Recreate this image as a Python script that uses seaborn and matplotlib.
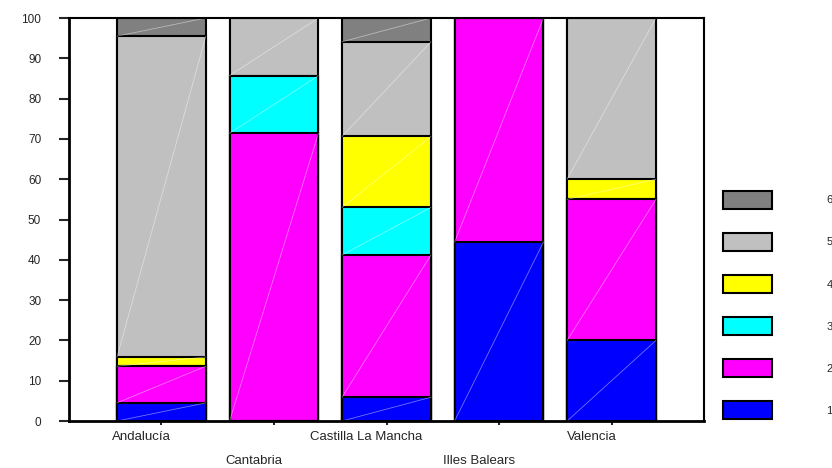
import numpy as np
import pandas as pd
import matplotlib
matplotlib.use("Agg")
import matplotlib.pyplot as plt
import matplotlib.transforms as mtransforms
from matplotlib.patches import Patch
import seaborn as sns

# data (percent of each level per region)
regions = ["Andalucía", "Cantabria", "Castilla La Mancha", "Illes Balears", "Valencia"]
levels = ["1", "2", "3", "4", "5", "6"]
colors = ["#0000FF", "#FF00FF", "#00FFFF", "#FFFF00", "#C0C0C0", "#808080"]

pct_1 = [4.5, 0.0, 5.9, 44.4, 20.0]
pct_2 = [9.1, 71.4, 35.3, 55.6, 35.0]
pct_3 = [0.0, 14.3, 11.8, 0.0, 0.0]
pct_4 = [2.3, 0.0, 17.6, 0.0, 5.0]
pct_5 = [79.6, 14.3, 23.5, 0.0, 40.0]
pct_6 = [4.5, 0.0, 5.9, 0.0, 0.0]

df = pd.DataFrame({"region": regions, "1": pct_1, "2": pct_2, "3": pct_3,
                   "4": pct_4, "5": pct_5, "6": pct_6})
cum = df[levels].cumsum(axis=1)

sns.set_style("ticks")
plt.rcParams["font.family"] = ["Liberation Sans", "DejaVu Sans"]

fig = plt.figure(figsize=(8.32, 4.68), dpi=100)
ax = fig.add_axes([0.0829, 0.1004, 0.7633, 0.8611])

bar_w = 0.79
# stacked bars: draw cumulative totals from the top level down
for lev, col in zip(levels[::-1], colors[::-1]):
    sns.barplot(x=df["region"], y=cum[lev], order=regions, color=col,
                saturation=1, width=bar_w, edgecolor="black", linewidth=1.5,
                errorbar=None, ax=ax)

# faint diagonal shading line inside every segment
for i in range(len(regions)):
    bottom = 0.0
    for lev in levels:
        top = cum.loc[i, lev]
        if top - bottom > 0:
            ax.plot([i - bar_w / 2, i + bar_w / 2], [bottom, top],
                    color="white", lw=0.6, alpha=0.45, zorder=3)
        bottom = top

ax.set_xlim(-0.822, 4.822)
ax.set_ylim(0, 100)
ax.set_yticks(np.arange(0, 101, 10))
ax.set_xlabel("")
ax.set_ylabel("")

for side in ["left", "bottom"]:
    ax.spines[side].set_linewidth(2)
for side in ["right", "top"]:
    ax.spines[side].set_visible(True)
    ax.spines[side].set_linewidth(1.5)
for s in ax.spines.values():
    s.set_color("black")
    s.set_zorder(5)

ax.tick_params(axis="y", length=7, width=1.5, pad=13, labelsize=8.5)
ax.tick_params(axis="x", length=3, width=1.5, pad=4, labelsize=9.5)

# staggered category labels, shifted slightly left as in the original
for j, lab in enumerate(ax.get_xticklabels()):
    dy = -0.245 if j % 2 == 1 else 0.0
    off = mtransforms.ScaledTranslation(-0.2, dy, fig.dpi_scale_trans)
    lab.set_transform(lab.get_transform() + off)

handles = [Patch(facecolor=c, edgecolor="black", linewidth=1.5)
           for c in colors[::-1]]
fig.legend(handles, levels[::-1], loc="upper left",
           bbox_to_anchor=(0.869, 0.592), frameon=False, fontsize=8,
           handlelength=4.4, handleheight=2.1, handletextpad=4.9,
           labelspacing=2.18, borderpad=0, borderaxespad=0)

fig.savefig("out.png", dpi=100)
